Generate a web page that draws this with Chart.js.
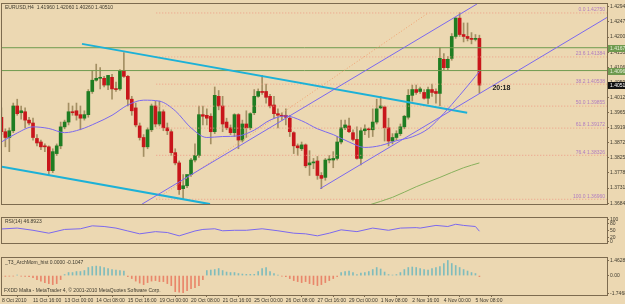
<!DOCTYPE html>
<html><head><meta charset="utf-8">
<script src="https://cdn.jsdelivr.net/npm/chart.js@4.4.1/dist/chart.umd.min.js"></script>
<style>
html,body{margin:0;padding:0;background:#ECD8B2;overflow:hidden;width:625px;height:304px}
canvas{position:absolute;left:0;display:block}
</style></head><body>
<canvas id="c1" width="625" height="214" style="top:0"></canvas>
<canvas id="c2" width="625" height="40" style="top:214px"></canvas>
<canvas id="c3" width="625" height="50" style="top:254px"></canvas>
<script>
// ---------------- data ----------------
const titleText = 'EURUSD,H4  1.41960 1.42060 1.40260 1.40510';
const openP = [
1.3951,1.3906,1.3888,1.3909,1.3986,1.3965,1.3968,1.3942,1.3933,1.3885,
1.3874,1.3862,1.3859,1.3785,1.3838,1.3862,1.3921,1.3936,1.3968,1.3971,
1.3959,1.3948,1.3959,1.4031,1.4066,1.4072,1.4072,1.4051,1.4075,1.4039,
1.4039,1.4096,1.4078,1.4007,1.3980,1.3924,1.3888,1.3859,1.3912,1.3986,
1.3930,1.3968,1.3918,1.3906,1.3841,1.3809,1.3729,1.3738,1.3773,1.3818,
1.3832,1.3959,1.3957,1.3954,1.3906,1.4016,1.3986,1.3936,1.3918,1.3903,
1.3959,1.3880,1.3930,1.3918,1.3965,1.4016,1.4031,1.4031,1.4016,1.3989,
1.3962,1.3957,1.3957,1.3948,1.3903,1.3862,1.3853,1.3865,1.3803,1.3809,
1.3815,1.3770,1.3764,1.3818,1.3818,1.3823,1.3874,1.3918,1.3924,1.3903,
1.3882,1.3823,1.3909,1.3915,1.3912,1.3936,1.3980,1.3983,1.3918,1.3877,
1.3888,1.3900,1.3921,1.3951,1.4019,1.4037,1.4031,1.4028,1.4010,1.4037,
1.4031,1.4025,1.4131,1.4105,1.4134,1.4202,1.4259,1.4208,1.4202,1.4196,
1.4193,1.4196];
const highP = [
1.3980,1.3915,1.3918,1.3995,1.4007,1.3986,1.3980,1.3951,1.3948,1.3897,
1.3880,1.3868,1.3862,1.3853,1.3868,1.3936,1.3942,1.3995,1.3986,1.3995,
1.3986,1.3971,1.4037,1.4096,1.4116,1.4105,1.4078,1.4081,1.4084,1.4060,
1.4099,1.4152,1.4081,1.4016,1.3995,1.3933,1.3897,1.3918,1.3992,1.4001,
1.4001,1.3974,1.3933,1.3912,1.3853,1.3815,1.3773,1.3755,1.3823,1.3868,
1.3986,1.3986,1.3977,1.3962,1.4045,1.4034,1.4016,1.3948,1.3927,1.3962,
1.3962,1.3942,1.3971,1.3965,1.4037,1.4039,1.4081,1.4054,1.4022,1.4016,
1.3977,1.3965,1.3977,1.3957,1.3906,1.3868,1.3874,1.3868,1.3847,1.3823,
1.3829,1.3779,1.3823,1.3832,1.3844,1.3891,1.3942,1.3942,1.3948,1.3912,
1.3921,1.3918,1.3927,1.3918,1.3977,1.4007,1.4016,1.3986,1.3948,1.3900,
1.3909,1.3930,1.3957,1.4037,1.4051,1.4051,1.4045,1.4037,1.4045,1.4054,
1.4039,1.4167,1.4149,1.4140,1.4211,1.4261,1.4276,1.4244,1.4244,1.4214,
1.4208,1.4206];
const lowP = [
1.3897,1.3859,1.3844,1.3903,1.3957,1.3945,1.3918,1.3927,1.3880,1.3862,
1.3850,1.3844,1.3773,1.3779,1.3832,1.3853,1.3915,1.3927,1.3957,1.3942,
1.3912,1.3942,1.3951,1.4025,1.4063,1.4039,1.4045,1.4037,1.4007,1.4031,
1.4034,1.4075,1.3986,1.3957,1.3921,1.3880,1.3829,1.3853,1.3906,1.3921,
1.3924,1.3909,1.3897,1.3832,1.3803,1.3711,1.3696,1.3732,1.3767,1.3812,
1.3826,1.3927,1.3927,1.3868,1.3900,1.3974,1.3906,1.3912,1.3897,1.3891,
1.3853,1.3874,1.3888,1.3912,1.3959,1.4013,1.4022,1.3995,1.3980,1.3948,
1.3918,1.3942,1.3927,1.3891,1.3838,1.3832,1.3847,1.3794,1.3770,1.3791,
1.3758,1.3729,1.3755,1.3809,1.3794,1.3818,1.3868,1.3912,1.3903,1.3877,
1.3821,1.3803,1.3897,1.3888,1.3891,1.3930,1.3977,1.3877,1.3862,1.3868,
1.3880,1.3894,1.3915,1.3945,1.4001,1.4022,1.4025,1.4007,1.3992,1.4016,
1.3995,1.3986,1.4099,1.4099,1.4128,1.4196,1.4202,1.4185,1.4188,1.4179,
1.4188,1.4026];
const closeP = [
1.3906,1.3888,1.3909,1.3986,1.3962,1.3971,1.3942,1.3933,1.3888,1.3871,
1.3859,1.3859,1.3785,1.3844,1.3862,1.3921,1.3936,1.3968,1.3965,1.3957,
1.3948,1.3959,1.4031,1.4066,1.4072,1.4075,1.4051,1.4081,1.4039,1.4037,
1.4096,1.4078,1.4007,1.3971,1.3927,1.3888,1.3859,1.3912,1.3986,1.3930,
1.3968,1.3918,1.3909,1.3841,1.3809,1.3726,1.3738,1.3773,1.3818,1.3832,
1.3959,1.3954,1.3948,1.3906,1.4019,1.3986,1.3930,1.3918,1.3903,1.3959,
1.3880,1.3930,1.3918,1.3962,1.4016,1.4031,1.4028,1.4013,1.3986,1.3962,
1.3957,1.3954,1.3951,1.3906,1.3862,1.3856,1.3865,1.3800,1.3809,1.3812,
1.3770,1.3761,1.3818,1.3821,1.3823,1.3874,1.3918,1.3927,1.3906,1.3882,
1.3823,1.3909,1.3915,1.3912,1.3936,1.3977,1.3986,1.3918,1.3877,1.3888,
1.3900,1.3921,1.3954,1.4019,1.4037,1.4028,1.4039,1.4010,1.4037,1.4028,
1.4025,1.4134,1.4105,1.4131,1.4202,1.4259,1.4208,1.4202,1.4196,1.4193,
1.4196,1.4051];

// moving average (purple) read at bar indices
const maIdx = [0,4,8,12,16,20,24,28,32,36,40,44,48,52,56,60,64,68,72,76,80,84,88,92,96,100,104,108,112,116,120,121];
const maVal = [1.3874,1.3902,1.3921,1.3916,1.3903,1.3913,1.3933,1.3957,1.3989,1.4004,1.4001,1.3971,1.3918,1.3888,1.3891,1.3893,1.3911,1.3942,1.3955,1.3940,1.3915,1.3897,1.3874,1.3857,1.3863,1.3878,1.3890,1.3915,1.3963,1.4019,1.4078,1.4093];
// long moving average (green)
const ma2Idx = [93,99,105,111,117,121];
const ma2Val = [1.3678,1.3702,1.3735,1.3764,1.3794,1.3809];

// trend lines: [barIndex, price]
const cyanUpper = [[20.4,1.4179],[117.9,1.3965]];
const cyanLower = [[0.15,1.3797],[52.8,1.3681]];
const purpleA = [[35.6,1.3681],[120.4,1.4303]];
const purpleB = [[80.7,1.3729],[153.3,1.4261]];
const fibLowPt = [39.2,1.3696];
const fibHighPt = [108.0,1.4275];
const fibPct = [0,23.6,38.2,50,61.8,76.4,100];
const hLines = [1.4167,1.4096];

const priceTicks = [1.4294,1.4247,1.4200,1.4153,1.4106,1.4059,1.4012,1.3965,1.3919,1.3872,1.3825,1.3778,1.3731,1.3684];
const timeLabels = ['8 Oct 2010','11 Oct 16:00','13 Oct 00:00','14 Oct 08:00','15 Oct 16:00','19 Oct 00:00','20 Oct 08:00','21 Oct 16:00','25 Oct 00:00','26 Oct 08:00','27 Oct 16:00','29 Oct 00:00','1 Nov 08:00','2 Nov 16:00','4 Nov 00:00','5 Nov 08:00'];
const timeIdx = [0,8,16,24,32,40,48,56,64,72,80,88,96,104,112,120];
const timerText = '20:18';

// RSI(14)
const rsiText = 'RSI(14) 46.8923';
const rsiIdx = [0,4,8,12,16,20,23,26,29,32,35,39,42,45,49,51,54,56,59,62,66,70,74,77,80,83,86,90,94,98,101,105,106,110,113,115,117,120,121];
const rsiVal = [56.8,60.6,50.9,38.2,54.7,57.6,70.6,67.6,60.6,47.9,35.3,45.0,41.2,26.5,47.9,54.7,57.6,48.8,50.9,50.9,57.6,48.8,38.2,35.3,26.5,38.2,52.9,45.0,60.6,50.9,60.6,62.6,60.6,72.4,67.6,77.4,72.4,67.6,46.9];
const rsiTicks = [100,80,50,20,0];

// momentum histogram
const momText = '_T3_ArchMom_hist 0.0000 -0.1047';
const momVal = [-0.05,-0.08,-0.06,-0.05,0.05,-0.05,-0.08,-0.1,-0.2,-0.4,
 -0.55,-0.7,-0.8,-0.9,-0.8,-0.4,0.1,0.3,0.3,0.4,
 0.4,0.5,0.8,0.9,0.94,0.9,0.8,0.7,0.6,0.55,
 0.5,0.45,-0.1,-0.3,-0.55,-0.75,-0.9,-0.7,-0.55,-0.5,
 -0.6,-0.6,-0.8,-1.0,-1.6,-1.65,-1.7,-1.5,-1.3,-1.2,
 -1.0,-0.4,0.5,0.55,0.6,0.7,0.5,0.35,0.3,0.3,
 0.2,0.15,0.12,0.12,0.12,0.4,0.7,0.8,0.4,0.2,
 0.05,-0.05,-0.1,-0.3,-0.5,-0.6,-0.7,-0.6,-0.8,-0.9,
 -1.0,-0.9,-0.7,-0.5,-0.3,-0.1,0.3,0.4,0.45,0.3,
 0.1,0.25,0.3,0.4,0.6,0.8,0.65,0.35,0.1,0.05,
 0.1,0.3,0.6,0.8,0.85,0.8,0.7,0.6,0.55,0.7,
 0.8,0.9,1.2,1.5,1.2,1.0,0.8,0.6,0.45,0.3,
 0.2,-0.1];
const momTicks = [1.4628,0,-1.7468];
const momTickLabels = ['1.4628','0.00','-1.7468'];
const footerText = 'FXDD Malta - MetaTrader 4, \u00A9 2001-2010 MetaQuotes Software Corp.';

// ---------------- styling ----------------
const BG = '#ECD8B2', FRAME = '#7d6b4f', TXT = '#3e3a2e';
const UP = '#1f7d22', DOWN = '#c8161b', WICK = '#a38f63';
const PURPLE = '#7b68ee', CYAN = '#1cb1d7', FIB = '#ee9c86', FIBTXT = '#b07cc0', HL = '#6f9a4f', GRN = '#88b05c';
const FONT = "'Liberation Sans', Arial, sans-serif";
const X_MIN = 0.15, X_MAX = 153.3;
Chart.defaults.font.family = FONT;
Chart.defaults.font.size = 5;
Chart.defaults.animation = false;

const N = openP.length;
const fibLevel = p => fibHighPt[1] - (fibHighPt[1] - fibLowPt[1]) * p / 100;

function xCfg(show){
  return {type:'linear', min:X_MIN, max:X_MAX, offset:false, display:show,
    afterBuildTicks(s){ s.ticks = timeIdx.map(v=>({value:Math.max(v, X_MIN)})); },
    afterFit(s){ s.height = 9; },
    grid:{display:true, drawOnChartArea:false, drawTicks:true, tickLength:2, color:FRAME},
    border:{display:true, color:FRAME},
    ticks:{autoSkip:false, maxRotation:0, minRotation:0, align:'start', padding:1, color:TXT,
      font:{size:5}, callback:(v,i)=>timeLabels[i]}};
}
function yCfg(min, max, vals, labels){
  return {position:'right', min, max,
    afterBuildTicks(s){ s.ticks = vals.map(v=>({value:v})); },
    afterFit(s){ s.width = 18; },
    grid:{display:true, drawOnChartArea:false, drawTicks:true, tickLength:2, color:FRAME},
    border:{display:true, color:FRAME},
    ticks:{autoSkip:false, padding:1, color:TXT, font:{size:5}, callback:(v,i)=>labels[i]}};
}
const seg = (pts, color, w, dash, extra) => Object.assign({type:'line',
  data: pts.map(p=>({x:p[0], y:p[1]})), borderColor:color, borderWidth:w,
  borderDash:dash||[], pointRadius:0, fill:false, tension:0, order:1}, extra||{});

function frame(c){
  const a = c.chartArea, ctx = c.ctx;
  ctx.strokeStyle = FRAME; ctx.lineWidth = 1;
  ctx.strokeRect(Math.floor(a.left)-0.5, Math.floor(a.top)-0.5, Math.round(a.right-a.left)+1, Math.round(a.bottom-a.top)+1);
}

// ---------------- main chart ----------------
const datasets = [];
datasets.push({type:'bar', data: openP.map((_,i)=>({x:i, y:[lowP[i], highP[i]]})),
  backgroundColor: WICK, barThickness:1, grouped:false, order:6});
datasets.push({type:'bar', data: openP.map((_,i)=>({x:i, y:[openP[i], closeP[i]]})),
  backgroundColor: ctx => closeP[ctx.dataIndex] >= openP[ctx.dataIndex] ? UP : DOWN,
  barThickness:3, minBarLength:1, grouped:false, order:5});
hLines.forEach(v => datasets.push(seg([[X_MIN, v],[X_MAX, v]], HL, 1, [], {order:3})));
fibPct.forEach(p => datasets.push(seg([[fibLowPt[0], fibLevel(p)],[X_MAX, fibLevel(p)]], FIB, 1, [1,2], {order:3})));
datasets.push(seg([fibLowPt, fibHighPt], '#f0a070', 1, [1,2], {order:2}));
datasets.push(seg(maIdx.map((x,k)=>[x, maVal[k]]), PURPLE, 1, [], {cubicInterpolationMode:'monotone'}));
datasets.push(seg(ma2Idx.map((x,k)=>[x, ma2Val[k]]), GRN, 1, [], {cubicInterpolationMode:'monotone'}));
datasets.push(seg(purpleA, PURPLE, 1));
datasets.push(seg(purpleB, PURPLE, 1));
datasets.push(seg(cyanUpper, CYAN, 2));
datasets.push(seg(cyanLower, CYAN, 2));

new Chart(document.getElementById('c1'), {
  type:'bar',
  data:{datasets},
  options:{responsive:false, animation:false, events:[],
    layout:{padding:{left:2, top:3, right:0, bottom:1}},
    plugins:{legend:{display:false}, tooltip:{enabled:false}},
    scales:{x:xCfg(false), y:yCfg(1.36813, 1.43029, priceTicks, priceTicks.map(v=>v.toFixed(5)))}},
  plugins:[{id:'decor', afterDraw(c){
    const ctx = c.ctx, a = c.chartArea, y = c.scales.y, x = c.scales.x;
    ctx.save();
    frame(c);
    ctx.font = '5px ' + FONT; ctx.textBaseline = 'middle';
    ctx.fillStyle = TXT; ctx.textAlign = 'left';
    ctx.fillText(titleText, a.left + 3, a.top + 4);
    ctx.fillStyle = FIBTXT; ctx.textAlign = 'right';
    fibPct.forEach(p => { const lv = fibLevel(p);
      ctx.fillText(p.toFixed(1) + ' ' + lv.toFixed(5), a.right - 2, y.getPixelForValue(lv) - 3); });
    ctx.textAlign = 'left';
    hLines.forEach(v => { const py = Math.round(y.getPixelForValue(v));
      ctx.fillStyle = HL; ctx.fillRect(a.right + 1, py - 3, 20, 7);
      ctx.fillStyle = '#e8f0d8'; ctx.fillText(v.toFixed(5), a.right + 3, py + 0.5); });
    const cp = closeP[N-1], py = Math.round(y.getPixelForValue(cp));
    ctx.fillStyle = '#111'; ctx.fillRect(a.right + 1, py - 3, 20, 7);
    ctx.fillStyle = '#fff'; ctx.fillText(cp.toFixed(5), a.right + 3, py + 0.5);
    ctx.font = 'bold 7px ' + FONT; ctx.fillStyle = '#1a1a1a';
    ctx.fillText(timerText, x.getPixelForValue(N-1) + 13, py + 3);
    ctx.restore();
  }}]
});

// ---------------- RSI ----------------
new Chart(document.getElementById('c2'), {
  type:'line',
  data:{datasets:[seg(rsiIdx.map((x,k)=>[x, rsiVal[k]]), PURPLE, 1)]},
  options:{responsive:false, animation:false, events:[],
    layout:{padding:{left:2, top:2, right:0, bottom:2}},
    plugins:{legend:{display:false}, tooltip:{enabled:false}},
    scales:{x:xCfg(false), y:yCfg(-5, 105, rsiTicks, rsiTicks.map(String))}},
  plugins:[{id:'decor2', afterDraw(c){
    const ctx = c.ctx, a = c.chartArea;
    ctx.save(); frame(c);
    ctx.font = '5px ' + FONT; ctx.textBaseline = 'middle'; ctx.fillStyle = TXT; ctx.textAlign = 'left';
    ctx.fillText(rsiText, a.left + 3, a.top + 4);
    ctx.restore();
  }}]
});

// ---------------- Momentum histogram + time axis ----------------
new Chart(document.getElementById('c3'), {
  type:'bar',
  data:{datasets:[{data: momVal.map((v,i)=>({x:i, y:v})),
    backgroundColor: ctx => momVal[ctx.dataIndex] >= 0 ? '#7fbcbc' : '#e9866a',
    barThickness:1, grouped:false}]},
  options:{responsive:false, animation:false, events:[],
    layout:{padding:{left:2, top:2, right:0, bottom:0}},
    plugins:{legend:{display:false}, tooltip:{enabled:false}},
    scales:{x:xCfg(true), y:yCfg(-1.933, 1.746, momTicks, momTickLabels)}},
  plugins:[{id:'decor3', afterDraw(c){
    const ctx = c.ctx, a = c.chartArea;
    ctx.save(); frame(c);
    ctx.font = '5px ' + FONT; ctx.textBaseline = 'middle'; ctx.fillStyle = TXT; ctx.textAlign = 'left';
    ctx.fillText(momText, a.left + 3, a.top + 5);
    ctx.fillText(footerText, a.left + 2, a.bottom - 4);
    ctx.restore();
  }}]
});
</script>
</body></html>
